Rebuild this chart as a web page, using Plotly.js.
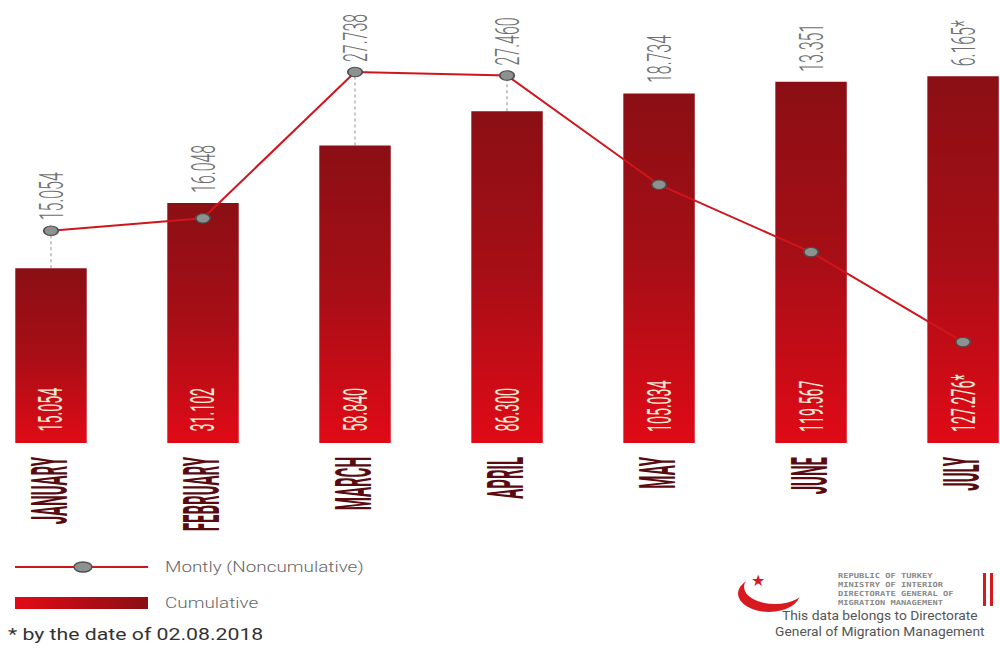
<!DOCTYPE html>
<html>
<head>
<meta charset="utf-8">
<script src="https://cdn.plot.ly/plotly-3.0.1.min.js"></script>
<style>html,body{margin:0;padding:0;background:#fff;}#chart{width:1000px;height:650px;}</style>
</head>
<body>
<div id="chart"></div>
<script>
// ---- data ----
const months = ["JANUARY", "FEBRUARY", "MARCH", "APRIL", "MAY", "JUNE", "JULY"];
const cumulative = [15054, 31102, 58840, 86300, 105034, 119567, 127276];
const monthly = [15054, 16048, 27738, 27460, 18734, 13351, 6165];
const noteMark = ["", "", "", "", "", "", "*"];

// ---- helpers ----
function fmt(v) { return String(v).replace(/\B(?=(\d{3})+(?!\d))/g, "."); }
const W = 1000, H = 650, MB = 207, PH = H - MB;
const px = x => x / W;
const py = y => (PH - y) / PH;

const yRange = [3.333, 5.473];       // log axis for cumulative bars
const y2Range = [-1897, 33488];      // linear axis for monthly line
const BASE = Math.pow(10, yRange[0]); // bars start at the bottom of the log axis
function barTopInY2(v) {
  const f = (Math.log10(v) - yRange[0]) / (yRange[1] - yRange[0]);
  return y2Range[0] + f * (y2Range[1] - y2Range[0]);
}

const FONT = "Roboto, 'Liberation Sans', sans-serif";

const barTrace = {
  type: "bar", x: months, y: cumulative.map(v => v - BASE), base: BASE, yaxis: "y", width: 0.47,
  marker: { color: "#c00d16", line: { width: 0 } },
  hoverinfo: "skip"
};
const lineTrace = {
  type: "scatter", mode: "lines+markers", x: months, y: monthly, yaxis: "y2",
  line: { color: "#d0151d", width: 2 },
  marker: { size: 10, color: "#8d9290", line: { color: "#4d4d4d", width: 1.2 } },
  hoverinfo: "skip"
};

const shapes = [];
const annotations = [];
const squashSpec = [];   // per-annotation horizontal text scaling (style)
function addAnn(a, sx, side) { annotations.push(a); squashSpec.push([sx, side]); }

months.forEach((m, i) => {
  const top = barTopInY2(cumulative[i]);
  if (monthly[i] > top) {
    shapes.push({ type: "line", xref: "x", yref: "y2", x0: m, x1: m, y0: top, y1: monthly[i],
      line: { color: "#b4b4b4", width: 1.5, dash: "dot" }, layer: "below" });
  }
  addAnn({ xref: "x", yref: "y2", x: m, y: Math.max(top, monthly[i]),
    text: fmt(monthly[i]) + noteMark[i], textangle: -90, showarrow: false,
    yanchor: "bottom", xanchor: "center", yshift: 8,
    font: { family: FONT, size: 34, color: "#6e6e6e", weight: 300 } }, 0.47, "start");
  addAnn({ xref: "x", yref: "y", x: m, y: yRange[0],
    text: fmt(cumulative[i]) + noteMark[i], textangle: -90, showarrow: false,
    yanchor: "bottom", xanchor: "center", yshift: 9,
    font: { family: FONT, size: 33, color: "#f7e9d4", weight: 400 } }, 0.43, "start");
});

// legend (custom)
shapes.push({ type: "line", xref: "paper", yref: "paper", x0: px(15), x1: px(148), y0: py(567), y1: py(567),
  line: { color: "#d0151d", width: 2 } });
shapes.push({ type: "circle", xref: "paper", yref: "paper", x0: px(74), x1: px(92), y0: py(572), y1: py(562),
  fillcolor: "#8d9290", line: { color: "#4d4d4d", width: 1.5 } });
shapes.push({ type: "rect", xref: "paper", yref: "paper", x0: px(15), x1: px(148), y0: py(609), y1: py(597),
  fillcolor: "rgb(201, 17, 27)", line: { width: 0 } });
addAnn({ xref: "paper", yref: "paper", x: px(163), y: py(567), xanchor: "left", yanchor: "middle",
  text: "Montly (Noncumulative)", showarrow: false, font: { family: FONT, size: 14, color: "#666", weight: 300 } }, 1.35, "start");
addAnn({ xref: "paper", yref: "paper", x: px(163), y: py(603), xanchor: "left", yanchor: "middle",
  text: "Cumulative", showarrow: false, font: { family: FONT, size: 14, color: "#666", weight: 300 } }, 1.35, "start");
addAnn({ xref: "paper", yref: "paper", x: px(6), y: py(634), xanchor: "left", yanchor: "middle",
  text: "* by the date of 02.08.2018", showarrow: false, font: { family: FONT, size: 17, color: "#333" } }, 1.25, "start");

// logo (approximate)
shapes.push({ type: "circle", xref: "paper", yref: "paper", x0: px(738), x1: px(800), y0: py(612), y1: py(575),
  fillcolor: "#d71920", line: { width: 0 } });
shapes.push({ type: "circle", xref: "paper", yref: "paper", x0: px(744), x1: px(806), y0: py(604), y1: py(570),
  fillcolor: "#ffffff", line: { width: 0 } });
shapes.push({ type: "rect", xref: "paper", yref: "paper", x0: px(983), x1: px(986), y0: py(606), y1: py(573),
  fillcolor: "#d71920", line: { width: 0 } });
shapes.push({ type: "rect", xref: "paper", yref: "paper", x0: px(990), x1: px(993), y0: py(606), y1: py(573),
  fillcolor: "#d71920", line: { width: 0 } });
addAnn({ xref: "paper", yref: "paper", x: px(758), y: py(580), xanchor: "center", yanchor: "middle",
  text: "★", showarrow: false, font: { family: "DejaVu Sans", size: 16, color: "#d71920" } }, 1, "mid");
addAnn({ xref: "paper", yref: "paper", x: px(836), y: py(589), xanchor: "left", yanchor: "middle", align: "left",
  text: "REPUBLIC OF TURKEY<br>MINISTRY OF INTERIOR<br>DIRECTORATE GENERAL OF<br>MIGRATION MANAGEMENT",
  showarrow: false, font: { family: "'DejaVu Sans Mono', monospace", size: 7, color: "#8a8a8a", weight: "bold" } }, 1.25, "start");
addAnn({ xref: "paper", yref: "paper", x: px(773), y: py(624), xanchor: "left", yanchor: "middle", align: "center",
  text: "This data belongs to Directorate<br>General of Migration Management", showarrow: false,
  font: { family: FONT, size: 12, color: "#555" } }, 1.15, "start");

const layout = {
  width: W, height: H, margin: { l: 0, r: 0, t: 0, b: MB, pad: 0 },
  paper_bgcolor: "#fff", plot_bgcolor: "#fff", showlegend: false, bargap: 0.5,
  xaxis: { type: "category", range: [-0.3355, 6.243], showgrid: false, zeroline: false, showline: false,
    ticks: "", tickangle: -90, ticklabelstandoff: 3, automargin: false,
    tickfont: { family: FONT, size: 50, color: "#5a0b10", weight: "bold" } },
  yaxis: { type: "log", range: yRange, visible: false, showgrid: false, fixedrange: true },
  yaxis2: { overlaying: "y", range: y2Range, visible: false, showgrid: false, zeroline: false },
  shapes: shapes, annotations: annotations
};

function squash(el, sx, side) {
  const b = el.getBBox();
  const ax = side === "start" ? b.x : side === "end" ? b.x + b.width : b.x + b.width / 2;
  const t = el.getAttribute("transform") || "";
  el.setAttribute("transform", t + " translate(" + ax + ",0) scale(" + sx + ",1) translate(" + (-ax) + ",0)");
}

Plotly.newPlot("chart", [barTrace, lineTrace], layout, { staticPlot: true, displayModeBar: false }).then(gd => {
  const svg = gd.querySelector(".main-svg");
  const NS = "http://www.w3.org/2000/svg";
  let defs = svg.querySelector("defs");
  if (!defs) { defs = document.createElementNS(NS, "defs"); svg.insertBefore(defs, svg.firstChild); }
  function grad(id, x2, y2, stops) {
    const g = document.createElementNS(NS, "linearGradient");
    g.setAttribute("id", id); g.setAttribute("x1", "0"); g.setAttribute("y1", "0");
    g.setAttribute("x2", x2); g.setAttribute("y2", y2);
    stops.forEach(s => { const st = document.createElementNS(NS, "stop");
      st.setAttribute("offset", s[0]); st.setAttribute("stop-color", s[1]); g.appendChild(st); });
    defs.appendChild(g);
  }
  grad("barGradV", "0", "1", [["0", "#8a0f14"], ["0.5", "#a80e16"], ["1", "#e00a16"]]);
  grad("barGradH", "1", "0", [["0", "#e20a16"], ["1", "#8a0f14"]]);
  gd.querySelectorAll(".barlayer .point path").forEach(p => { p.style.fill = "url(#barGradV)"; });
  gd.querySelectorAll(".shapelayer path").forEach(p => {
    if ((p.style.fill || "").replace(/\s/g, "") === "rgb(201,17,27)") p.style.fill = "url(#barGradH)";
  });
  // condensed look of the lettering
  gd.querySelectorAll(".xtick text").forEach(t => squash(t, 0.3, "end"));
  gd.querySelectorAll("g.annotation").forEach(g => {
    const idx = +g.getAttribute("data-index");
    const spec = squashSpec[idx];
    const t = g.querySelector("text.annotation-text");
    if (spec && t && spec[0] !== 1) squash(t, spec[0], spec[1]);
  });
  // oval markers
  gd.querySelectorAll(".scatterlayer .point").forEach(p => {
    p.setAttribute("transform", (p.getAttribute("transform") || "") + " scale(1.45,0.95)");
  });
});
</script>
</body>
</html>
